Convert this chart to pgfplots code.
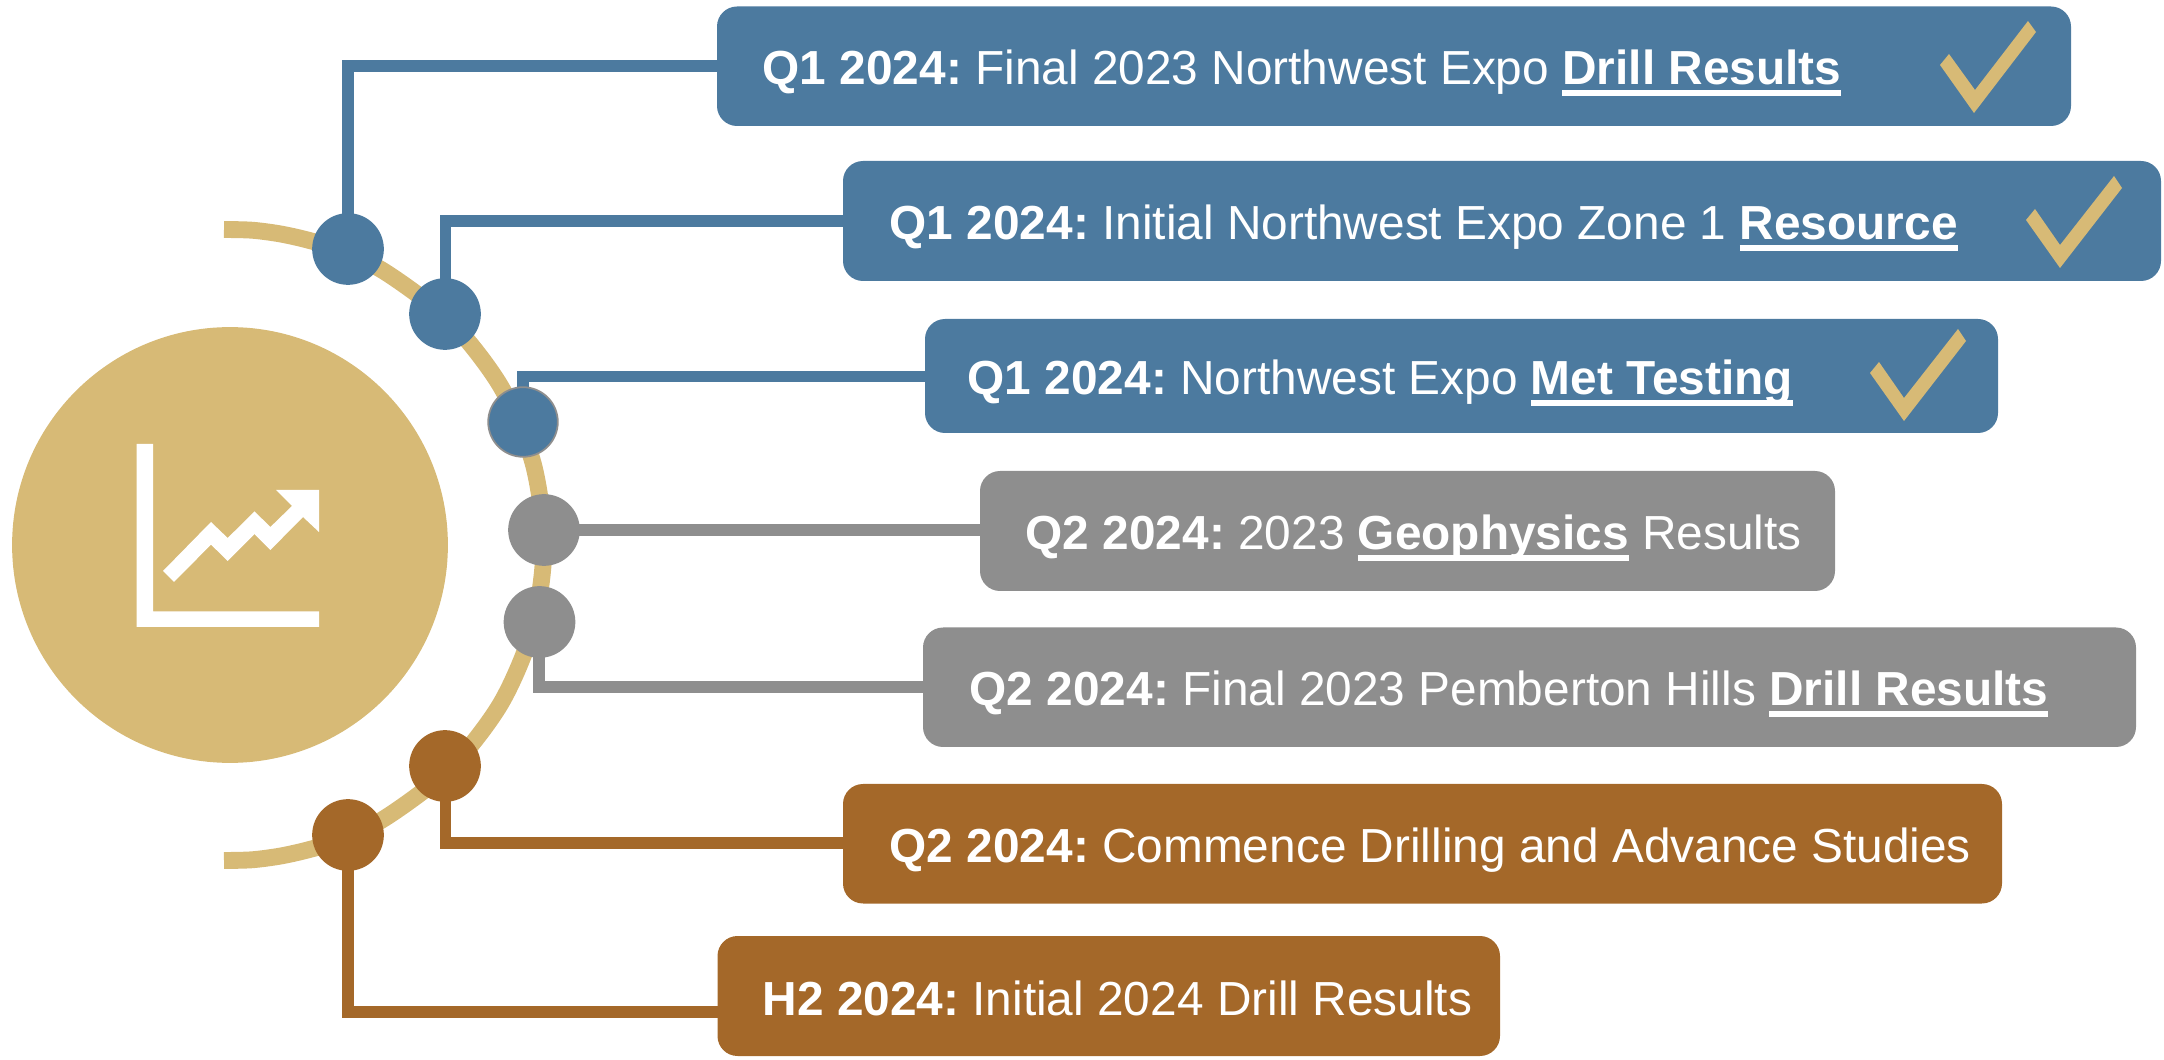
\documentclass[border=0pt]{standalone}
\usepackage{pgfplots}
\pgfplotsset{compat=1.18}
\usepackage{fontspec}
\setmainfont{Liberation Sans}

\definecolor{stepblue}{HTML}{4C7A9F}
\definecolor{stepgray}{HTML}{8E8E8E}
\definecolor{stepbrown}{HTML}{A46829}
\definecolor{gold}{HTML}{D7BA76}

% bold underlined words in the labels
\newcommand{\ul}[1]{\setbox0\hbox{\bfseries #1}\rlap{\vrule height -1.55pt depth 3.25pt width \wd0}\box0\relax}
\newcommand{\lab}[3]{\node[anchor=base west,inner sep=0pt,text=white,font=\fontsize{13.6}{16}\selectfont] at (axis cs:#1,#2) {\frenchspacing #3};}

\pgfplotsset{
    canvas/.style={
        width=21.64cm,
        height=10.6cm,
        scale only axis,
        xmin=0, xmax=2164,
        ymin=0, ymax=1060,
        y dir=reverse,
        ticks=none,
        axis line style={draw=none},
        clip=false,
    },
    box/.style={fill=#1,draw=none,rounded corners=5.7pt},
    conn/.style={draw=#1,line width=3.3pt,mark=none},
    dot/.style={draw=#1,only marks,mark=*,mark size=10pt,mark options={fill=#1,draw=#1}},
}

\begin{document}
\begin{tikzpicture}
\begin{axis}[canvas]

% gold arc
\addplot[draw=gold,line width=4.8pt,smooth,mark=none] coordinates {
    (224,229.5) (251.9,230.2) (279.6,233.8) (306.8,239.8) (333.4,248.1) (384,271.3)
    (450.3,321.6) (501.1,387) (533.1,463.2) (544,545) (533.1,626.8) (501.1,703)
    (450.3,768.4) (384,818.7) (333.4,841.9) (306.8,850.2) (279.6,856.2) (251.9,859.8) (224,860.5)
};

% big circle
\addplot[draw=gold,only marks,mark=*,mark size=61.8pt,mark options={fill=gold,draw=gold}] coordinates {(230,545)};

% connectors
\addplot[conn=stepblue] coordinates {(348,249) (348,66) (720,66)};
\addplot[conn=stepblue] coordinates {(445.5,314) (445.5,221) (846,221)};
\addplot[conn=stepblue] coordinates {(523,422) (523,376.5) (928,376.5)};
\addplot[conn=stepgray] coordinates {(544,530) (983,530)};
\addplot[conn=stepgray] coordinates {(539,622) (539,687) (926,687)};
\addplot[conn=stepbrown] coordinates {(445.5,766) (445.5,843) (846,843)};
\addplot[conn=stepbrown] coordinates {(348,835) (348,1012) (720,1012)};

% nodes on the arc
\addplot[dot=stepblue] coordinates {(348,249) (445,314)};
\addplot[draw=stepgray,only marks,mark=*,mark size=9.9pt,mark options={fill=stepblue,draw=stepgray,line width=0.5pt}] coordinates {(523,422)};
\addplot[dot=stepgray] coordinates {(544,530) (539.5,622)};
\addplot[dot=stepbrown] coordinates {(445,766) (348,835)};

% label boxes
\addplot[box=stepblue] coordinates {(717,66) (717,6.5) (2071,6.5) (2071,126) (717,126)} -- cycle;
\addplot[box=stepblue] coordinates {(843,221) (843,161) (2161,161) (2161,281) (843,281)} -- cycle;
\addplot[box=stepblue] coordinates {(925,376) (925,319) (1998,319) (1998,433) (925,433)} -- cycle;
\addplot[box=stepgray] coordinates {(980,531) (980,471) (1835,471) (1835,591) (980,591)} -- cycle;
\addplot[box=stepgray] coordinates {(923,687) (923,627.5) (2136,627.5) (2136,747) (923,747)} -- cycle;
\addplot[box=stepbrown] coordinates {(843,844) (843,784) (2002,784) (2002,903.5) (843,903.5)} -- cycle;
\addplot[box=stepbrown] coordinates {(717.5,996) (717.5,936) (1500,936) (1500,1056) (717.5,1056)} -- cycle;

% check marks
\addplot[fill=gold,draw=none] coordinates {(2028,21) (2036,32) (1974,113) (1940,65) (1949,54) (1975,90)} -- cycle;
\addplot[fill=gold,draw=none] coordinates {(2114,176) (2122,188) (2060,268) (2026,220) (2035,209) (2060,245)} -- cycle;
\addplot[fill=gold,draw=none] coordinates {(1958,329) (1966,341) (1904,421) (1870,373) (1879,362) (1904,398)} -- cycle;

% labels
\lab{762}{85}{\textbf{Q1 2024:} Final 2023 Northwest Expo \ul{Drill Results}}
\lab{889}{240}{\textbf{Q1 2024:} Initial Northwest Expo Zone 1 \ul{Resource}}
\lab{967}{395}{\textbf{Q1 2024:} Northwest Expo \ul{Met Testing}}
\lab{1025}{549.5}{\textbf{Q2 2024:} 2023 \ul{Geophysics} Results}
\lab{969}{705.5}{\textbf{Q2 2024:} Final 2023 Pemberton Hills \ul{Drill Results}}
\lab{889}{862.5}{\textbf{Q2 2024:} Commence Drilling and Advance Studies}
\lab{762}{1015.5}{\textbf{H2 2024:} Initial 2024 Drill Results}

\end{axis}

% markers are drawn last in an axis, so the icon sits in its own axis on top
\begin{axis}[canvas]
\addplot[fill=white,draw=none] coordinates {
    (136.5,444) (153,444) (153,611.5) (319,611.5) (319,627) (136.5,627)
} -- cycle;
\addplot[fill=white,draw=none] coordinates {
    (276,490) (319,490) (319,532) (303,517) (270.4,550) (254.5,534) (227.7,561)
    (211,544.6) (174,582) (163,571) (211,522) (227.7,538) (254.5,511.4) (270.4,527) (292,506)
} -- cycle;
\end{axis}
\end{tikzpicture}
\end{document}
